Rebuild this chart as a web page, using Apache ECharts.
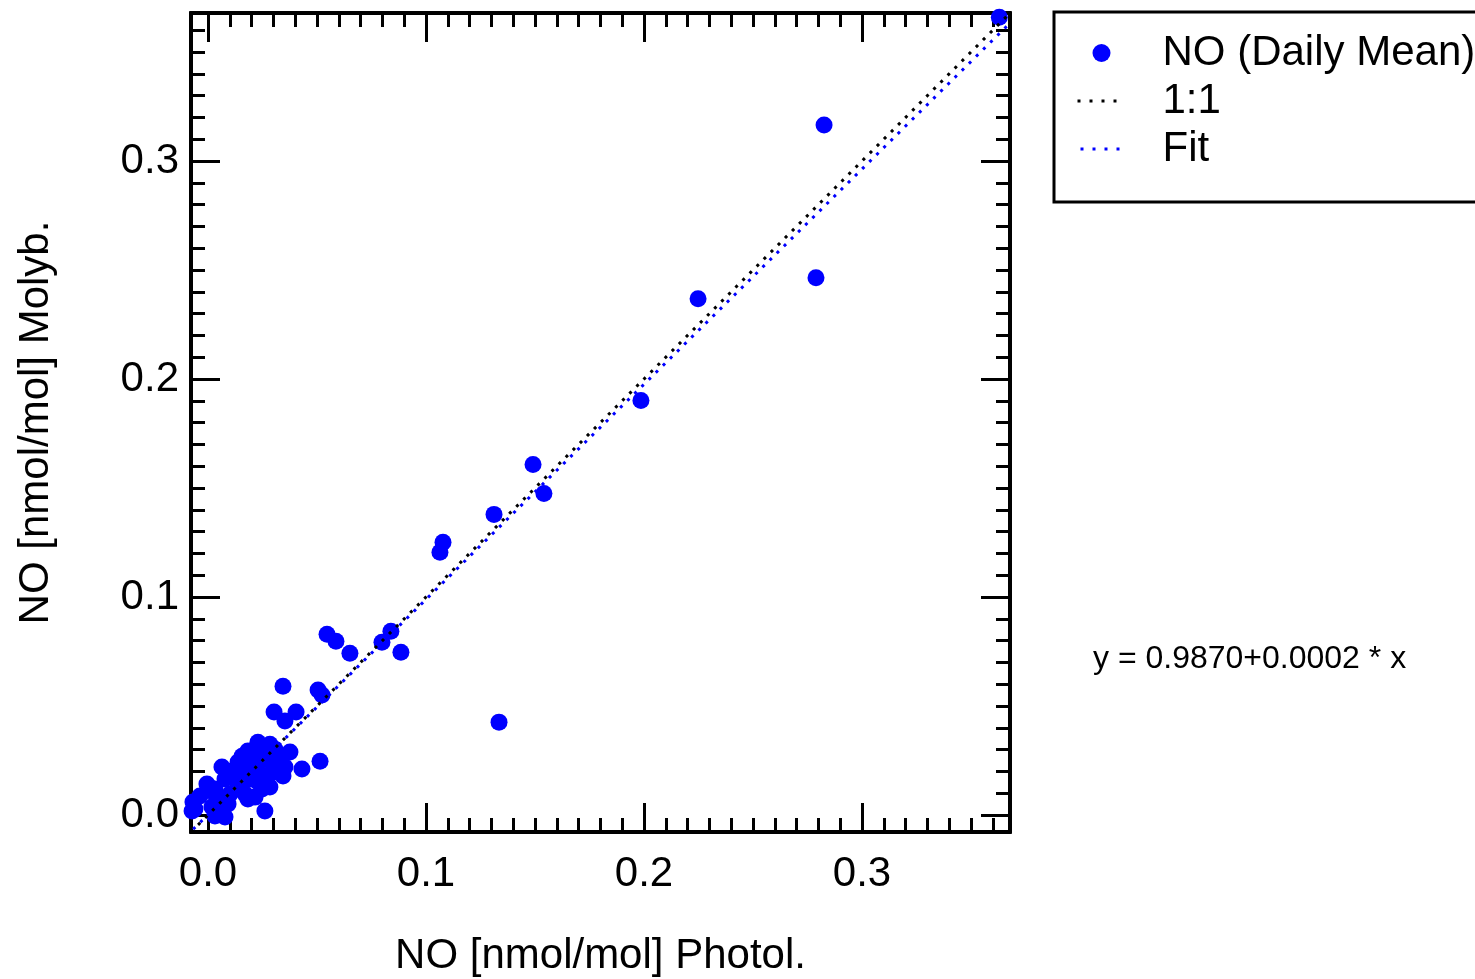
<!DOCTYPE html>
<html>
<head>
<meta charset="utf-8">
<script src="https://cdn.jsdelivr.net/npm/echarts@6/dist/echarts.min.js"></script>
<style>
  html, body { margin: 0; padding: 0; background: #fff; }
  #main { width: 1475px; height: 979px; }
</style>
</head>
<body>
<div id="main"></div>
<script>
// NO daily means: photolytic (x) vs molybdenum converter (y), nmol/mol
var noPhotol = [
    0.2826, 0.2789, 0.2248, 0.1986, 0.1491, 0.1541, 0.1312, 0.1078, 0.1064, 0.1335,
    0.0839, 0.0798, 0.0885, 0.0651, 0.0546, 0.0587, 0.0344, 0.0505, 0.0523, 0.0303,
    0.0404, 0.0353, 0.0514, 0.3630,
    0.0248, 0.0284, 0.0225, 0.0183, 0.0138, 0.0064, 0.0376, 0.0431, 0.0307, 0.0353,
    0.0000, 0.0032, 0.0284, 0.0261, 0.0032, 0.0078, -0.0069, -0.0073, 0.0344, 0.0229,
    0.0156, 0.0124, -0.0005, 0.0064, -0.0060, 0.0170, 0.0216, 0.0193, 0.0147, 0.0101,
    0.0055, 0.0092, 0.0239, 0.0261, 0.0330, 0.0284, 0.0216, 0.0248, 0.0183, 0.0138,
    0.0170, 0.0018, 0.0110, 0.0078, 0.0307, 0.0032, -0.0037, 0.0229
];
var noMolyb = [
    0.3165, 0.2465, 0.2368, 0.1901, 0.1608, 0.1475, 0.1379, 0.1251, 0.1205, 0.0426,
    0.0843, 0.0792, 0.0747, 0.0742, 0.0829, 0.0797, 0.0591, 0.0573, 0.0550, 0.0472,
    0.0472, 0.0431, 0.0247, 0.3660,
    0.0316, 0.0325, 0.0289, 0.0293, 0.0243, 0.0220, 0.0289, 0.0211, 0.0243, 0.0220,
    0.0133, 0.0119, 0.0128, 0.0018, -0.0005, -0.0009, 0.0060, 0.0018, 0.0179, 0.0334,
    0.0270, 0.0179, 0.0142, 0.0014, 0.0027, 0.0210, 0.0234, 0.0165, 0.0119, 0.0096,
    0.0073, 0.0050, 0.0188, 0.0257, 0.0257, 0.0188, 0.0082, 0.0119, 0.0073, 0.0142,
    0.0096, 0.0037, 0.0202, 0.0165, 0.0302, 0.0096, 0.0087, 0.0151
];
// line end points (axis range)
var oneToOneLine = [[-0.0078, -0.0078], [0.368, 0.368]];
var fitLine = [[-0.0078, -0.0075], [0.368, 0.3634]];
var fitText = 'y = 0.9870+0.0002 * x';

var axisMin = -0.0078, axisMax = 0.3679;
var majorTicks = [0, 0.1, 0.2, 0.3];
var minorTicks = [];
for (var i = 0; i <= 36; i++) minorTicks.push(+(i * 0.01).toFixed(2));

var FONT = 'Liberation Sans';
var FS = 42;

var scatterData = noPhotol.map(function (x, i) { return [x, noMolyb[i]]; });

function fmt(v) { return v.toFixed(1); }

function mkAxis(pos, ticks, len, extra) {
    var ax = {
        type: 'value',
        position: pos,
        min: axisMin,
        max: axisMax,
        splitLine: { show: false },
        axisLine: { show: true, onZero: false, lineStyle: { color: '#000', width: 4 } },
        axisTick: { show: true, inside: true, length: len, customValues: ticks, lineStyle: { color: '#000', width: 3 } },
        axisLabel: { show: false }
    };
    for (var k in extra) ax[k] = extra[k];
    return ax;
}

var hiddenSym = { color: 'rgba(0,0,0,0)', borderColor: 'rgba(0,0,0,0)', borderWidth: 0 };

var chart = echarts.init(document.getElementById('main'));
chart.setOption({
    animation: false,
    backgroundColor: '#fff',
    grid: { left: 191, top: 13, width: 819, height: 819, outerBoundsMode: 'none' },
    xAxis: [
        mkAxis('bottom', majorTicks, 29, {
            name: 'NO [nmol/mol] Photol.', nameLocation: 'middle', nameGap: 103,
            nameTextStyle: { color: '#000', fontFamily: FONT, fontSize: FS },
            axisLabel: { show: true, customValues: majorTicks, color: '#000', fontFamily: FONT, fontSize: FS, margin: 21, formatter: fmt }
        }),
        mkAxis('bottom', minorTicks, 14, {}),
        mkAxis('top', majorTicks, 29, {}),
        mkAxis('top', minorTicks, 14, {})
    ],
    yAxis: [
        mkAxis('left', majorTicks, 29, {
            name: 'NO [nmol/mol] Molyb.', nameLocation: 'middle', nameGap: 134,
            nameTextStyle: { color: '#000', fontFamily: FONT, fontSize: FS },
            axisLabel: { show: true, customValues: majorTicks, color: '#000', fontFamily: FONT, fontSize: FS, margin: 12,
                padding: [6, 0, 0, 0], formatter: fmt }
        }),
        mkAxis('left', minorTicks, 14, {}),
        mkAxis('right', majorTicks, 29, {}),
        mkAxis('right', minorTicks, 14, {})
    ],
    legend: {
        orient: 'vertical',
        left: 1054,
        top: 12,
        padding: [20, 60, 32, 22],
        borderColor: '#000',
        borderWidth: 3,
        itemWidth: 48,
        itemHeight: 18,
        itemGap: 6,
        textStyle: { color: '#000', fontFamily: FONT, fontSize: FS, padding: [0, 0, 0, 32] },
        data: [
            { name: 'NO (Daily Mean)', icon: 'circle' },
            { name: '1:1', itemStyle: hiddenSym, lineStyle: { color: '#000', width: 3, type: [3, 9] } },
            { name: 'Fit', itemStyle: hiddenSym, lineStyle: { color: '#0000ff', width: 3, type: [3, 9] } }
        ]
    },
    graphic: [{
        type: 'text',
        left: 1093,
        top: 643,
        style: { text: fitText, fill: '#000', font: '32px "Liberation Sans"' }
    }],
    series: [
        {
            name: 'NO (Daily Mean)',
            type: 'scatter',
            symbol: 'circle',
            symbolSize: 17,
            itemStyle: { color: '#0000ff', opacity: 1 },
            data: scatterData,
            z: 2
        },
        {
            name: '1:1',
            type: 'line',
            showSymbol: false,
            symbol: 'none',
            lineStyle: { color: '#000', width: 3, type: [3, 7] },
            itemStyle: { color: '#000' },
            data: oneToOneLine,
            z: 3
        },
        {
            name: 'Fit',
            type: 'line',
            showSymbol: false,
            symbol: 'none',
            lineStyle: { color: '#0000ff', width: 3, type: [3, 7], dashOffset: -3 },
            itemStyle: { color: '#0000ff' },
            data: fitLine,
            z: 3
        }
    ]
});
</script>
</body>
</html>
